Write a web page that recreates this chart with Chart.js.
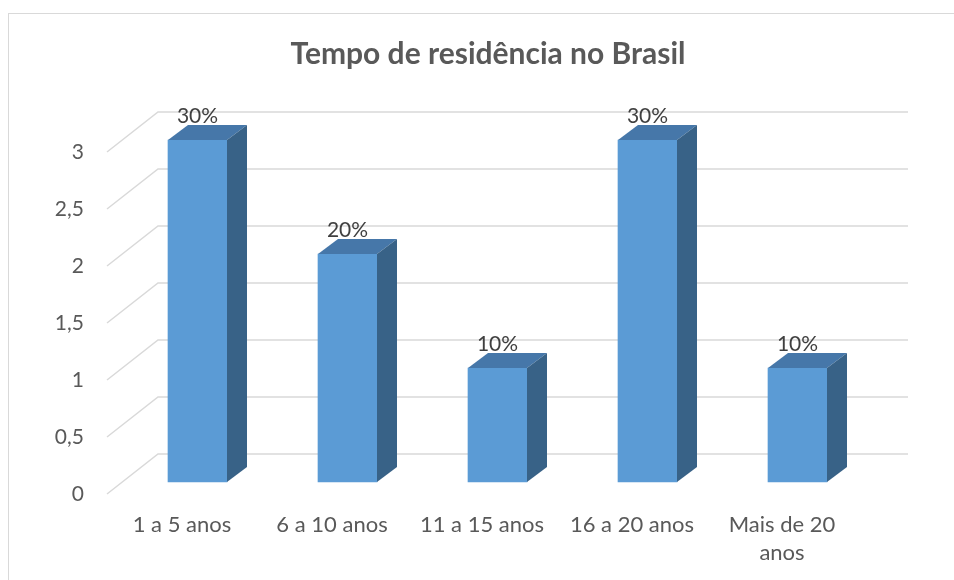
<!DOCTYPE html>
<html>
<head>
<meta charset="utf-8">
<script src="https://cdn.jsdelivr.net/npm/chart.js@4.4.1/dist/chart.umd.min.js"></script>
<style>
    body { margin: 0; background: #ffffff; }
    #wrap { position: relative; width: 954px; height: 580px; overflow: hidden; }
    #frame { position: absolute; left: 8px; top: 13px; width: 1000px; height: 1000px; border: 1.5px solid #d9d9d9; }
    canvas { position: absolute; left: 0; top: 0; }
</style>
</head>
<body>
<div id="wrap">
    <div id="frame"></div>
    <canvas id="tempoChart" width="954" height="580"></canvas>
</div>
<script>
const categories = ['1 a 5 anos', '6 a 10 anos', '11 a 15 anos', '16 a 20 anos', ['Mais de 20', 'anos']];
const counts = [3, 2, 1, 3, 1];
const pctLabels = ['30%', '20%', '10%', '30%', '10%'];
const yMin = 0;
const yMax = 3;
const yStep = 0.5;

// offsets of the fake 3D planes, relative to the axis plane
const FRONT_DX = 15.5, FRONT_DY = -12;
const DEPTH_DX = 20, DEPTH_DY = -15;
const WALL_DX = 51, WALL_DY = -40;

const FONT = 'Lato, "Open Sans", sans-serif';

const depthPlugin = {
    id: 'depth',
    beforeDatasetsDraw(chart) {
        const { ctx, chartArea } = chart;
        const y = chart.scales.y;
        ctx.save();
        ctx.strokeStyle = '#d9d9d9';
        ctx.lineWidth = 1.5;
        y.ticks.forEach(t => {
            const py = y.getPixelForValue(t.value);
            ctx.beginPath();
            ctx.moveTo(chartArea.left, py);
            ctx.lineTo(chartArea.left + WALL_DX, py + WALL_DY);
            ctx.lineTo(chartArea.right + WALL_DX, py + WALL_DY);
            ctx.stroke();
        });
        ctx.restore();
        // bars are drawn on the plane in front of the back wall
        ctx.save();
        ctx.translate(FRONT_DX, FRONT_DY);
    },
    afterDatasetsDraw(chart) {
        const ctx = chart.ctx;
        const meta = chart.getDatasetMeta(0);
        meta.data.forEach((bar, i) => {
            const { x, y, base, width } = bar.getProps(['x', 'y', 'base', 'width'], true);
            const l = x - width / 2;
            const r = x + width / 2;

            ctx.fillStyle = '#4677a9';
            ctx.beginPath();
            ctx.moveTo(l, y);
            ctx.lineTo(r, y);
            ctx.lineTo(r + DEPTH_DX, y + DEPTH_DY);
            ctx.lineTo(l + DEPTH_DX, y + DEPTH_DY);
            ctx.closePath();
            ctx.fill();

            ctx.fillStyle = '#386287';
            ctx.beginPath();
            ctx.moveTo(r, y);
            ctx.lineTo(r + DEPTH_DX, y + DEPTH_DY);
            ctx.lineTo(r + DEPTH_DX, base + DEPTH_DY);
            ctx.lineTo(r, base);
            ctx.closePath();
            ctx.fill();

            ctx.fillStyle = '#404040';
            ctx.font = '21px ' + FONT;
            ctx.textAlign = 'center';
            ctx.textBaseline = 'alphabetic';
            ctx.fillText(pctLabels[i], x, y - 17);
        });
        ctx.restore();
    }
};

new Chart(document.getElementById('tempoChart').getContext('2d'), {
    type: 'bar',
    data: {
        labels: categories,
        datasets: [{
            data: counts,
            backgroundColor: '#5b9bd5',
            borderWidth: 0,
            barThickness: 59,
            clip: false
        }]
    },
    options: {
        responsive: false,
        animation: false,
        events: [],
        layout: { padding: { left: 22, right: 0, top: 14, bottom: 0 } },
        scales: {
            x: {
                grid: { display: false, drawTicks: false },
                border: { display: false },
                ticks: {
                    color: '#595959',
                    font: { family: FONT, size: 22, lineHeight: 1.27 },
                    padding: 17,
                    maxRotation: 0,
                    autoSkip: false
                },
                afterFit(s) { s.height = 86; }
            },
            y: {
                min: yMin,
                max: yMax,
                grid: { display: false, drawTicks: false },
                border: { display: false },
                ticks: {
                    stepSize: yStep,
                    color: '#595959',
                    font: { family: FONT, size: 21 },
                    padding: 23,
                    callback: v => String(v).replace('.', ',')
                },
                afterFit(s) { s.width = 85; }
            },
            y2: {
                position: 'right',
                grid: { display: false, drawTicks: false },
                border: { display: false },
                ticks: { display: false },
                afterFit(s) { s.width = 97; }
            }
        },
        plugins: {
            legend: { display: false },
            tooltip: { enabled: false },
            title: {
                display: true,
                text: 'Tempo de residência no Brasil',
                color: '#595959',
                font: { family: FONT, size: 30, weight: 'bold', lineHeight: 1.2 },
                padding: { top: 22, bottom: 80 }
            }
        }
    },
    plugins: [depthPlugin]
});
</script>
</body>
</html>
